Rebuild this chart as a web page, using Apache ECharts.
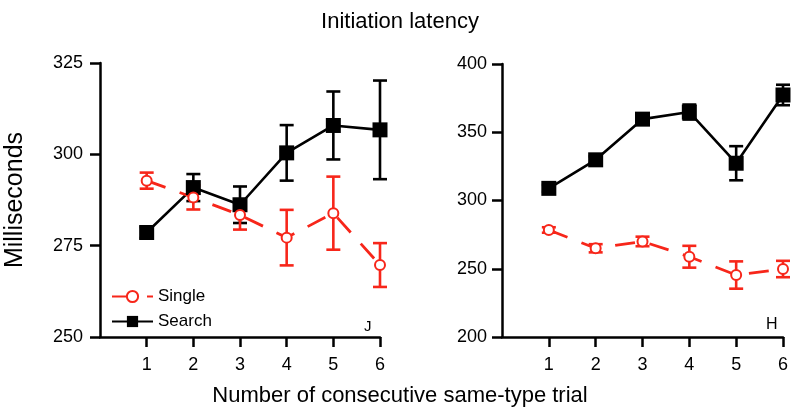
<!DOCTYPE html>
<html>
<head>
<meta charset="utf-8">
<script src="https://cdn.jsdelivr.net/npm/echarts@6/dist/echarts.min.js"></script>
<style>html,body{margin:0;padding:0;background:#fff}#c{width:800px;height:418px}</style>
</head>
<body>
<div id="c"></div>
<script>
const trials = [1, 2, 3, 4, 5, 6];
const xTickLabels = ['1', '2', '3', '4', '5', '6'];
const leftTicks = [250, 275, 300, 325];
const rightTicks = [200, 250, 300, 350, 400];

const leftSingleMean = [292.8, 288.2, 283.4, 277.2, 283.9, 269.7];
const leftSingleErr  = [2.2, 3.3, 4.0, 7.6, 10.0, 6.0];
const leftSearchMean = [278.6, 290.9, 286.2, 300.4, 307.9, 306.7];
const leftSearchErr  = [1.5, 3.7, 5.0, 7.6, 9.3, 13.5];

const rightSingleMean = [278.4, 265.0, 270.0, 258.8, 245.4, 249.8];
const rightSingleErr  = [2.0, 3.0, 3.5, 8.0, 10.0, 6.0];
const rightSearchMean = [308.9, 329.8, 359.6, 364.8, 327.3, 377.3];
const rightSearchErr  = [2.5, 2.5, 3.5, 5.5, 12.5, 7.5];

const RED = '#f7261a';
const BLACK = '#000';
const FONT = 'Liberation Sans';

function pts(mean) { return trials.map((t, i) => [t, mean[i]]); }
function errs(mean, err) { return trials.map((t, i) => [t, mean[i] - err[i], mean[i] + err[i]]); }

function errSeries(name, data, color, gi) {
  return {
    type: 'custom', name: name, xAxisIndex: gi, yAxisIndex: gi,
    data: data, encode: { x: 0, y: [1, 2] }, silent: true,
    renderItem: function (params, api) {
      const x = api.value(0), lo = api.value(1), hi = api.value(2);
      const a = api.coord([x, hi]), b = api.coord([x, lo]);
      const w = 7;
      const st = { stroke: color, lineWidth: 2.6, fill: null };
      return { type: 'group', children: [
        { type: 'line', shape: { x1: a[0], y1: a[1], x2: b[0], y2: b[1] }, style: st },
        { type: 'line', shape: { x1: a[0] - w, y1: a[1], x2: a[0] + w, y2: a[1] }, style: st },
        { type: 'line', shape: { x1: b[0] - w, y1: b[1], x2: b[0] + w, y2: b[1] }, style: st }
      ]};
    }
  };
}

function searchLine(data, gi) {
  return {
    type: 'line', name: 'Search', xAxisIndex: gi, yAxisIndex: gi, data: data,
    symbol: 'rect', symbolSize: 15,
    lineStyle: { color: BLACK, width: 2.6 },
    itemStyle: { color: BLACK }
  };
}
function singleLine(data, gi) {
  return {
    type: 'line', name: 'Single', xAxisIndex: gi, yAxisIndex: gi, data: data,
    symbol: 'emptyCircle', symbolSize: 10,
    lineStyle: { color: RED, width: 2.8, type: [20, 15] },
    itemStyle: { color: RED, borderColor: RED, borderWidth: 1.8 }
  };
}

function xAxisCfg(gi) {
  return {
    type: 'value', gridIndex: gi, min: 0, max: 6, interval: 1,
    axisLine: { lineStyle: { color: BLACK, width: 2.5 } },
    axisTick: { length: 10, lineStyle: { color: BLACK, width: 2.5 }, customValues: trials },
    axisLabel: { customValues: trials, formatter: v => xTickLabels[trials.indexOf(v)] || '', color: BLACK, fontSize: 18, fontFamily: FONT, margin: 19 },
    splitLine: { show: false }
  };
}
function yAxisCfg(gi, ticks, margin, extra) {
  return Object.assign({
    type: 'value', gridIndex: gi, min: ticks[0], max: ticks[ticks.length - 1],
    interval: ticks[1] - ticks[0],
    axisLine: { show: true, lineStyle: { color: BLACK, width: 2.5 } },
    axisTick: { show: true, length: 10, lineStyle: { color: BLACK, width: 2.5 } },
    axisLabel: { color: BLACK, fontSize: 18, fontFamily: FONT, margin: margin },
    splitLine: { show: false }
  }, extra || {});
}

const chart = echarts.init(document.getElementById('c'));
chart.setOption({
  animation: false,
  backgroundColor: '#fff',
  title: [
    { text: 'Initiation latency', left: 'center', top: 6, textStyle: { fontFamily: FONT, fontSize: 22, fontWeight: 'normal', color: BLACK } },
    { text: 'Number of consecutive same-type trial', left: 'center', top: 380, textStyle: { fontFamily: FONT, fontSize: 22, fontWeight: 'normal', color: BLACK } }
  ],
  graphic: [
    { type: 'text', left: 364, top: 319, style: { text: 'J', font: '15px "Liberation Sans"', fill: BLACK } },
    { type: 'text', left: 766, top: 317, style: { text: 'H', font: '16px "Liberation Sans"', fill: BLACK } }
  ],
  legend: {
    data: ['Single', 'Search'], orient: 'vertical', left: 106, top: 283,
    itemWidth: 41, itemHeight: 14, itemGap: 8,
    textStyle: { fontFamily: FONT, fontSize: 17, color: BLACK }
  },
  grid: [
    { left: 100, right: 420, top: 63, bottom: 81 },
    { left: 502, right: 17, top: 64, bottom: 81 }
  ],
  xAxis: [xAxisCfg(0), xAxisCfg(1)],
  yAxis: [
    yAxisCfg(0, leftTicks, 17, { name: 'Milliseconds', nameLocation: 'middle', nameGap: 72, nameRotate: 90,
      nameTextStyle: { fontFamily: FONT, fontSize: 25, color: BLACK } }),
    yAxisCfg(1, rightTicks, 15)
  ],
  series: [
    errSeries('SearchErrL', errs(leftSearchMean, leftSearchErr), BLACK, 0),
    searchLine(pts(leftSearchMean), 0),
    errSeries('SingleErrL', errs(leftSingleMean, leftSingleErr), RED, 0),
    singleLine(pts(leftSingleMean), 0),
    errSeries('SearchErrR', errs(rightSearchMean, rightSearchErr), BLACK, 1),
    searchLine(pts(rightSearchMean), 1),
    errSeries('SingleErrR', errs(rightSingleMean, rightSingleErr), RED, 1),
    singleLine(pts(rightSingleMean), 1)
  ]
});
</script>
</body>
</html>
